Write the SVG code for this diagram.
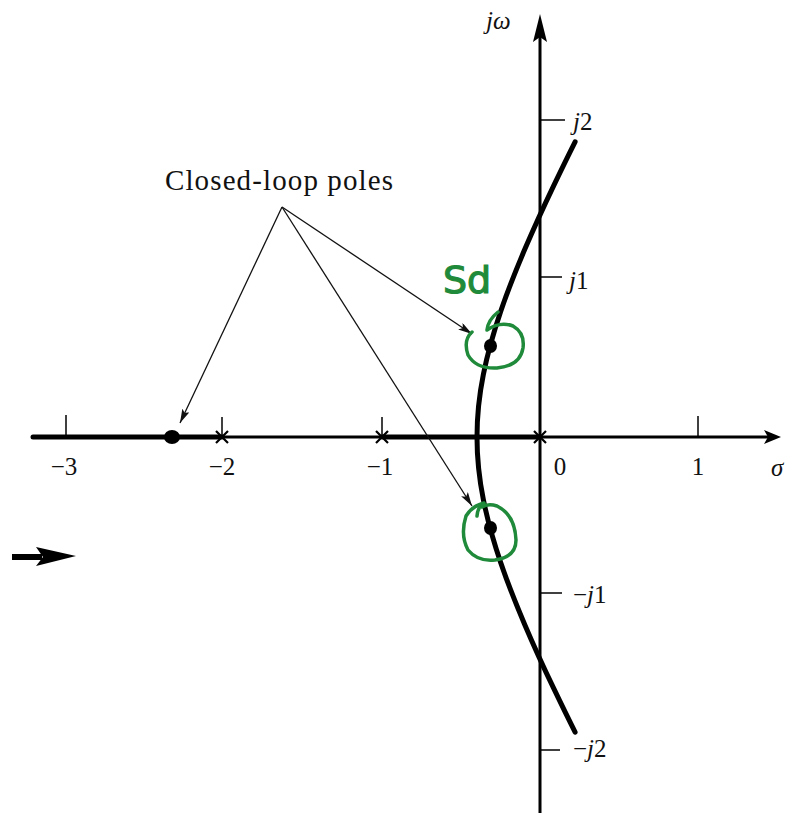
<svg xmlns="http://www.w3.org/2000/svg" width="796" height="813" viewBox="0 0 796 813">
  <style>
    .axis { stroke: #000; stroke-width: 3; fill: none; }
    .locus { stroke: #000; stroke-width: 5; fill: none; stroke-linecap: round; }
    .tick { stroke: #000; stroke-width: 1.5; }
    .pole { stroke: #000; stroke-width: 2.2; }
    .lbl { font-family: "Liberation Serif", "Times New Roman", serif; font-size: 25px; fill: #111; }
    .it { font-style: italic; }
    .conn { stroke: #111; stroke-width: 1.3; fill: none; }
    .green { stroke: #1f8a3a; stroke-width: 3.5; fill: none; stroke-linecap: round; stroke-linejoin: round; }
  </style>
  <defs>
    <marker id="ah" viewBox="0 0 14 8" refX="14" refY="4" markerWidth="14" markerHeight="8" markerUnits="userSpaceOnUse" orient="auto">
      <path d="M0,0 L14,4 L0,8 L3,4 Z" fill="#111"/>
    </marker>
  </defs>
  <rect width="796" height="813" fill="#fff"/>

  <g id="axes">
    <line class="axis" x1="33" y1="437" x2="768" y2="437"/>
    <polygon points="781,437 764,430 768,437 764,444" fill="#000"/>
    <line class="axis" x1="540" y1="813" x2="540" y2="32"/>
    <polygon points="540,14 533,42 540,37 547,42" fill="#000"/>
  </g>

  <g id="ticks">
    <line class="tick" x1="66" y1="415" x2="66" y2="437"/>
    <line class="tick" x1="222" y1="417" x2="222" y2="437"/>
    <line class="tick" x1="382" y1="417" x2="382" y2="437"/>
    <line class="tick" x1="698" y1="416" x2="698" y2="437"/>
    <line class="tick" x1="540" y1="120" x2="565" y2="120"/>
    <line class="tick" x1="540" y1="277" x2="562" y2="277"/>
    <line class="tick" x1="540" y1="593" x2="562" y2="593"/>
    <line class="tick" x1="540" y1="750" x2="560" y2="750"/>
  </g>

  <g id="axis-labels">
    <text class="lbl" x="64" y="475" text-anchor="middle">−3</text>
    <text class="lbl" x="222" y="475" text-anchor="middle">−2</text>
    <text class="lbl" x="380" y="475" text-anchor="middle">−1</text>
    <text class="lbl" x="560" y="475" text-anchor="middle">0</text>
    <text class="lbl" x="698" y="475" text-anchor="middle">1</text>
    <text class="lbl it" x="771" y="476">σ</text>
    <text class="lbl it" x="486" y="29">jω</text>
    <text class="lbl" x="573" y="130"><tspan class="it">j</tspan>2</text>
    <text class="lbl" x="569" y="289"><tspan class="it">j</tspan>1</text>
    <text class="lbl" x="573" y="603">−<tspan class="it">j</tspan>1</text>
    <text class="lbl" x="573" y="757">−<tspan class="it">j</tspan>2</text>
  </g>

  <g id="root-locus">
    <line class="locus" x1="33" y1="437" x2="222" y2="437"/>
    <line class="locus" x1="382" y1="437" x2="540" y2="437"/>
    <path class="locus" d="M575.1,732.2 C567.8,717.6 560.6,702.8 553.6,688.2 C543.6,667.3 534,646.3 525.1,625.4 C516.2,604.5 507.8,583.5 500.7,562.6 C493.6,541.7 487.6,520.7 483.4,499.8 C479.2,478.9 477,457.9 477,437 C477,416.1 479.2,395.1 483.4,374.2 C487.6,353.3 493.6,332.3 500.7,311.4 C507.8,290.5 516.2,269.5 525.1,248.6 C534,227.7 543.6,206.7 553.6,185.8 C560.6,171.2 567.8,156.4 575.1,141.8"/>
  </g>

  <g id="open-loop-poles">
    <path class="pole" d="M216,431 L228,443 M228,431 L216,443"/>
    <path class="pole" d="M376,431 L388,443 M388,431 L376,443"/>
    <path class="pole" d="M534,431 L546,443 M546,431 L534,443"/>
  </g>

  <g id="closed-loop-poles">
    <ellipse cx="172" cy="437" rx="8" ry="7" fill="#000"/>
    <ellipse cx="490.5" cy="346" rx="6.5" ry="7" fill="#000"/>
    <ellipse cx="490.5" cy="528" rx="6.5" ry="7" fill="#000"/>
  </g>

  <g id="label-closed-loop-poles">
    <text class="lbl" x="165" y="190" textLength="228" style="font-size:29px">Closed-loop poles</text>
  </g>

  <g id="connectors">
    <line class="conn" x1="282" y1="207" x2="180" y2="423" marker-end="url(#ah)"/>
    <line class="conn" x1="282" y1="207" x2="472" y2="334" marker-end="url(#ah)"/>
    <line class="conn" x1="282" y1="207" x2="472" y2="506" marker-end="url(#ah)"/>
  </g>

  <g id="side-arrow">
    <line x1="12" y1="557" x2="42" y2="557" stroke="#000" stroke-width="6"/>
    <polygon points="76,556 36,547 43,557 36,566" fill="#000"/>
  </g>

  <g id="annotations">
    <text x="443" y="293" font-family="DejaVu Sans, sans-serif" font-size="38" fill="#1f8a3a" stroke="#1f8a3a" stroke-width="1.2">Sd</text>
    <path class="green" d="M498,312 Q488,320 487,330 Q500,321 513,326 Q525,333 523,348 Q520,366 497,368 Q476,369 468,355 Q463,340 472,332"/>
    <path class="green" d="M477,516 Q478,506 484,503 Q472,506 466,516 Q460,535 468,550 Q478,562 495,560 Q516,557 516,540 Q515,515 497,506 Q488,503 482,507"/>
  </g>
</svg>
